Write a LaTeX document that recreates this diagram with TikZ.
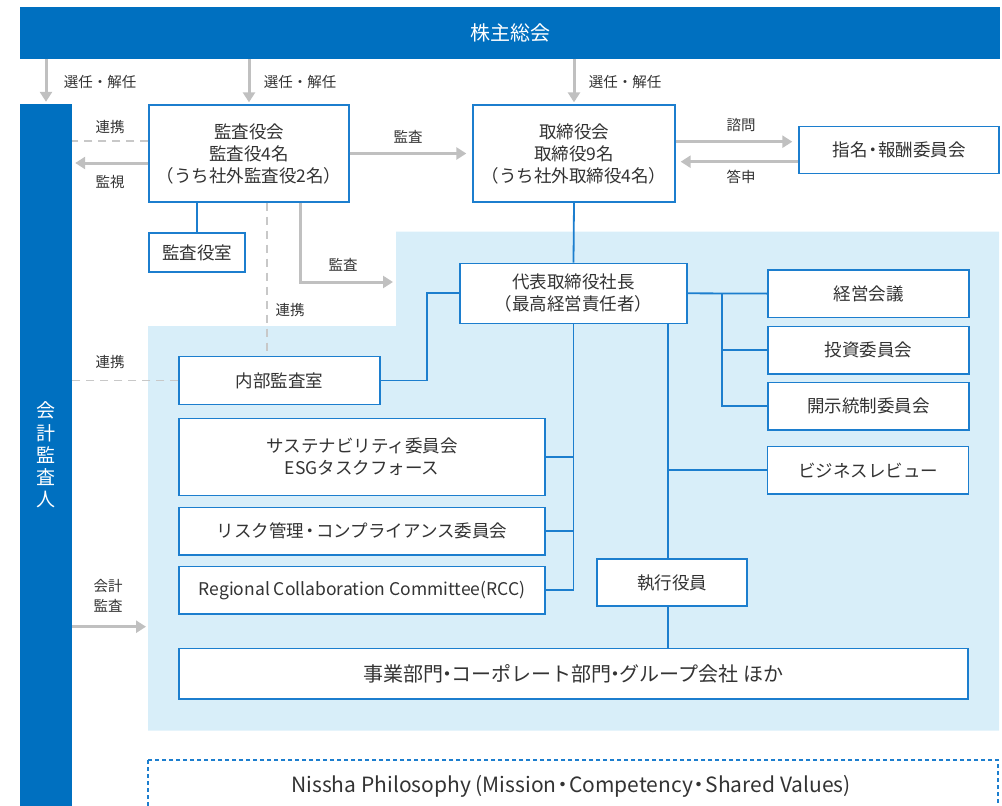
\documentclass[tikz,border=0pt]{standalone}
\usepackage{fontspec}
\setmainfont{Noto Sans CJK JP}
\usetikzlibrary{arrows.meta}
\definecolor{barblue}{RGB}{0,112,192}
\definecolor{boxblue}{RGB}{28,126,206}
\definecolor{zonefill}{RGB}{216,238,249}
\definecolor{arrowgray}{RGB}{192,192,192}
\definecolor{dashgray}{RGB}{200,200,200}
\definecolor{txtgray}{RGB}{51,51,51}
% tight middle dot
\newcommand{\tightdot}[1]{\kern-#1em・\kern-#1em}

\begin{document}
\begin{tikzpicture}[x=1pt,y=-1pt,
    box/.style={draw=boxblue,line width=1.3pt,fill=white,text=txtgray,align=center,
        inner sep=0pt,font=\fontsize{17.5}{22}\selectfont},
    bar/.style={fill=barblue,text=white,align=center,inner sep=0pt},
    lbl/.style={text=txtgray,align=center,inner sep=0pt,font=\fontsize{14.5}{19.5}\selectfont},
    link/.style={draw=boxblue,line width=1.8pt},
    garrow/.style={draw=arrowgray,line width=3pt,-{Triangle[length=10pt,width=12pt]}},
    dline/.style={draw=dashgray,line width=1.8pt,dash pattern=on 8pt off 6pt}]
    \useasboundingbox (0,0) rectangle (1002,806);

    % execution zone
    \fill[zonefill] (396,231.7) -- (999,231.7) -- (999,730.7) -- (148,730.7)
        -- (148,326) -- (396,326) -- cycle;
    \coordinate (zonetop) at (396,282);
    \coordinate (zoneleft) at (148,626.7);

    \node[bar,minimum width=980pt,minimum height=51.7pt,font=\fontsize{20}{24}\selectfont]
        (sokai) at (510,32.9) {株主総会};
    \node[bar,minimum width=52pt,minimum height=702pt,font=\fontsize{19}{22.3}\selectfont]
        (kansanin) at (46,455) {会\\計\\監\\査\\人};

    \node[box,minimum width=200pt,minimum height=97pt] (kansayakukai) at (249,153.5)
        {監査役会\\監査役4名\\（うち社外監査役2名）};
    \node[box,minimum width=96pt,minimum height=39pt] (kansashitsu) at (197,252.5) {監査役室};
    \node[box,minimum width=202pt,minimum height=97pt] (torishimari) at (574,153.5)
        {取締役会\\取締役9名\\（うち社外取締役4名）};
    \node[box,minimum width=200pt,minimum height=46.6pt] (shimei) at (899,150) {指名\tightdot{.2}報酬委員会};

    \node[box,minimum width=227pt,minimum height=60pt] (daihyo) at (573.5,293.3)
        {代表取締役社長\\（最高経営責任者）};
    \node[box,minimum width=201pt,minimum height=47.3pt] (keiei) at (868.5,293.6) {経営会議};
    \node[box,minimum width=201pt,minimum height=47.3pt] (toshi) at (868.5,350.3) {投資委員会};
    \node[box,minimum width=201pt,minimum height=47.3pt] (kaiji) at (868.5,406.3) {開示統制委員会};
    \node[box,minimum width=201pt,minimum height=47.3pt] (review) at (868,470.3) {ビジネスレビュー};

    \node[box,minimum width=201pt,minimum height=47.6pt] (naibu) at (279.5,380.5) {内部監査室};
    \node[box,minimum width=366pt,minimum height=76.6pt] (sustain) at (362,457)
        {サステナビリティ委員会\\ESGタスクフォース};
    \node[box,minimum width=366pt,minimum height=47.3pt] (risk) at (362,531.3)
        {リスク管理\tightdot{.15}コンプライアンス委員会};
    \node[box,minimum width=366pt,minimum height=47.3pt] (rcc) at (362,590.3)
        {Regional Collaboration Committee(RCC)};
    \node[box,minimum width=150pt,minimum height=47pt] (shikko) at (672,582.5) {執行役員};
    \node[box,minimum width=789pt,minimum height=50.7pt,font=\fontsize{20}{24}\selectfont] (jigyo) at (573.5,673.6)
        {事業部門\tightdot{.3}コーポレート部門\tightdot{.3}グループ会社 ほか};

    \draw[boxblue,line width=1.2pt,dash pattern=on 4pt off 3pt] (148,760) rectangle (998,815);
    \node[text=txtgray,inner sep=0pt,font=\fontsize{21}{25}\selectfont] (philo) at (571,786)
        {Nissha Philosophy (Mission\tightdot{.2}Competency\tightdot{.2}Shared Values)};

    % election by shareholders
    \draw[garrow,shorten >=2pt] (sokai.south -| kansanin) -- (kansanin.north);
    \draw[garrow,shorten >=2pt] (sokai.south -| kansayakukai) -- (kansayakukai.north);
    \draw[garrow,shorten >=2pt] (sokai.south -| torishimari) -- (torishimari.north);
    \node[lbl] (sen1) at (100,82) {選任・解任};
    \node[lbl] (sen2) at (300,82) {選任・解任};
    \node[lbl] (sen3) at (625,82) {選任・解任};

    % audit & supervisory board
    \draw[dline] ([yshift=12.5pt]kansayakukai.west) -- ([yshift=12.5pt]kansayakukai.west -| kansanin.east);
    \draw[garrow,shorten >=3pt] ([yshift=-9.5pt]kansayakukai.west) -- ([yshift=-9.5pt]kansayakukai.west -| kansanin.east);
    \node[lbl] (renkei1) at (110,127) {連携};
    \node[lbl] (kanshi) at (110,182) {監視};
    \draw[garrow,shorten >=6pt] (kansayakukai.east) -- (torishimari.west);
    \node[lbl] (kansa1) at (408,137) {監査};
    \draw[link] (kansashitsu.north) -- (kansashitsu.north |- kansayakukai.south);
    \draw[dline] ([xshift=18pt]kansayakukai.south) -- ([xshift=18pt]kansayakukai.south |- naibu.north);
    \node[lbl] (renkei2) at (290,310) {連携};
    \draw[garrow,shorten >=3pt] ([xshift=51pt]kansayakukai.south) |- (zonetop);
    \node[lbl] (kansa2) at (343,265) {監査};

    % board & committee
    \draw[garrow,shorten >=6pt] ([yshift=11.8pt]torishimari.east) -- ([yshift=11.8pt]torishimari.east -| shimei.west);
    \draw[garrow,shorten >=5pt] ([yshift=-8.2pt]torishimari.east -| shimei.west) -- ([yshift=-8.2pt]torishimari.east);
    \node[lbl] (shimon) at (741,125) {諮問};
    \node[lbl] (toshin) at (741,177) {答申};

    % accounting auditor
    \draw[dline] (naibu.west) -- (naibu.west -| kansanin.east);
    \node[lbl] (renkei3) at (110,362) {連携};
    \draw[garrow,shorten >=2pt] (zoneleft -| kansanin.east) -- (zoneleft);
    \node[lbl] (kaikei) at (108,596) {会計\\監査};

    % execution lines
    \draw[link] (torishimari.south) -- (daihyo.north);
    \draw[link] (daihyo.east) -- (keiei.west);
    \coordinate (kbr) at ([xshift=34pt]daihyo.east);
    \draw[link] (kbr) |- (kaiji.west);
    \draw[link] (toshi.west) -- (toshi.west -| kbr);
    \draw[link] (naibu.east) -| ([xshift=-32.7pt]daihyo.west) -- (daihyo.west);
    \draw[link] (daihyo.south) |- (rcc.east);
    \draw[link] (sustain.east) -- (sustain.east -| daihyo.south);
    \draw[link] (risk.east) -- (risk.east -| daihyo.south);
    \coordinate (ebr) at ([xshift=94.5pt]daihyo.south);
    \draw[link] (ebr) -- (ebr |- shikko.north);
    \draw[link] (review.west) -- (review.west -| ebr);
    \draw[link] (ebr |- shikko.south) -- (ebr |- jigyo.north);
\end{tikzpicture}
\end{document}
